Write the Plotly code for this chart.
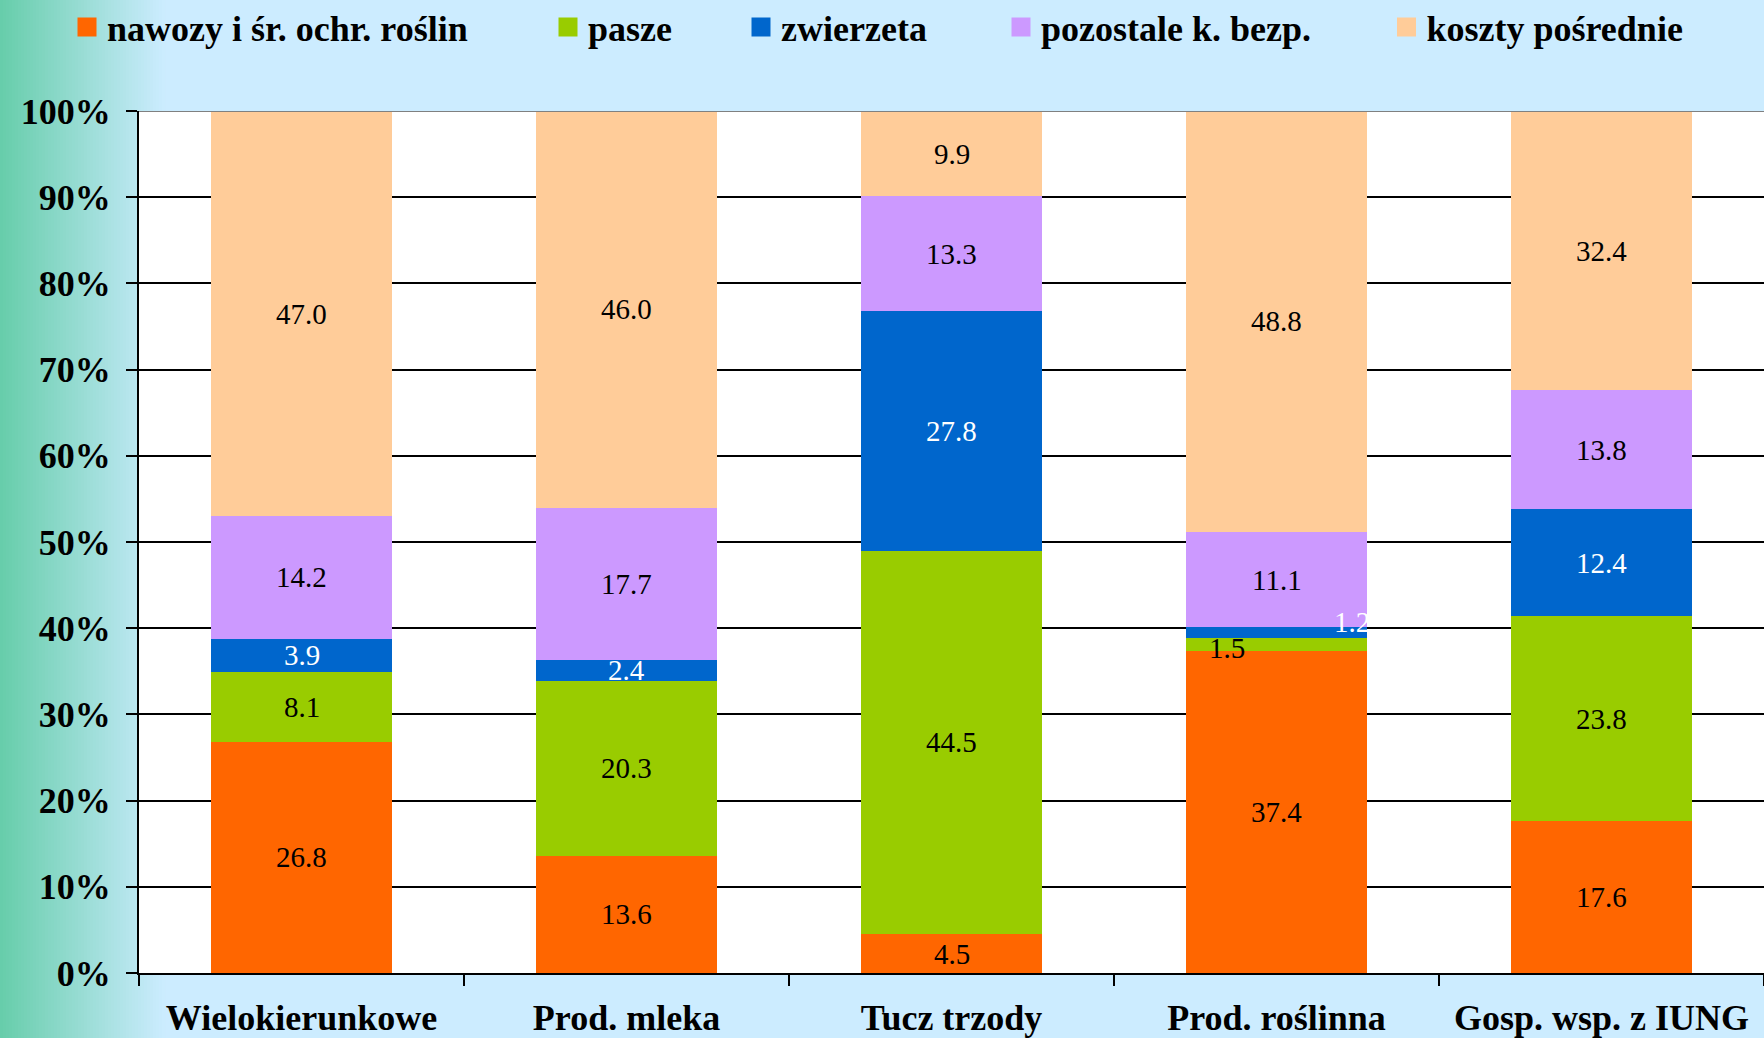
import plotly.graph_objects as go

# Cost structure by farm type (% of total costs)
categories = ["Wielokierunkowe", "Prod. mleka", "Tucz trzody", "Prod. roślinna", "Gosp. wsp. z IUNG"]
series_names = ["nawozy i śr. ochr. roślin", "pasze", "zwierzeta", "pozostale k. bezp.", "koszty pośrednie"]
nawozy = [26.8, 13.6, 4.5, 37.4, 17.6]
pasze = [8.1, 20.3, 44.5, 1.5, 23.8]
zwierzeta = [3.9, 2.4, 27.8, 1.2, 12.4]
pozostale = [14.2, 17.7, 13.3, 11.1, 13.8]
posrednie = [47.0, 46.0, 9.9, 48.8, 32.4]
y_ticks = [0, 10, 20, 30, 40, 50, 60, 70, 80, 90, 100]
y_tick_labels = [f"{v}%" for v in y_ticks]

series_values = [nawozy, pasze, zwierzeta, pozostale, posrednie]
colors = ["#FF6600", "#99CC00", "#0066CC", "#CC99FF", "#FFCC99"]
label_colors = ["black", "black", "white", "black", "black"]

W, H = 1764, 1038
ML, MR, MT, MB = 139, 0, 111, 65
PW, PH = W - ML - MR, H - MT - MB

SERIF = "Liberation Serif, Times New Roman, serif"
BG = "#CCECFF"

fig = go.Figure()
legend_ids = ["legend", "legend2", "legend3", "legend4", "legend5"]
for name, vals, col, lid in zip(series_names, series_values, colors, legend_ids):
    fig.add_trace(go.Bar(
        x=categories, y=vals, name=name, marker=dict(color=col, line=dict(width=0)),
        legendgroup=name, showlegend=False, hoverinfo="x+y+name",
    ))
    # legend entry with a larger square swatch
    fig.add_trace(go.Scatter(
        x=[None], y=[None], mode="markers", name=name, legend=lid, legendgroup=name,
        marker=dict(symbol="square", size=16, color=col, line=dict(color=col, width=3)),
        hoverinfo="skip",
    ))

# value labels centred in each stacked segment
annotations = []
nudges = {(3, 1): (-50, -4), (3, 2): (75, 11)}
for ci, cat in enumerate(categories):
    base = 0.0
    for si, vals in enumerate(series_values):
        v = vals[ci]
        dx, dy = nudges.get((ci, si), (0, 0))
        annotations.append(dict(
            x=cat, y=base + v / 2, xref="x", yref="y", text=f"{v:.1f}",
            showarrow=False, xshift=dx, yshift=dy,
            font=dict(family=SERIF, size=29, color=label_colors[si]),
        ))
        base += v

# left-edge background gradient (teal to light blue)
shapes = []
grad_end = 165
steps = 55
c0 = (0x66, 0xCD, 0xAA)
c1 = (0xCC, 0xEC, 0xFF)
for i in range(steps):
    x0p = grad_end * i / steps
    x1p = grad_end * (i + 1) / steps + 0.6
    t = (i + 0.5) / steps
    col = "rgb(%d,%d,%d)" % tuple(round(a + (b - a) * t) for a, b in zip(c0, c1))
    xa, xb = (x0p - ML) / PW, (x1p - ML) / PW
    common = dict(type="rect", xref="paper", yref="paper", line=dict(width=0),
                  fillcolor=col, layer="below")
    if x1p <= ML:
        shapes.append(dict(x0=xa, x1=xb, y0=-MB / PH - 0.01, y1=1 + MT / PH + 0.01, **common))
    else:
        shapes.append(dict(x0=xa, x1=xb, y0=1, y1=1 + MT / PH + 0.01, **common))
        shapes.append(dict(x0=xa, x1=xb, y0=-MB / PH - 0.01, y1=0, **common))

# grey frame line along the top of the plot area
shapes.append(dict(type="line", xref="x domain", yref="y", x0=0, x1=1, y0=100, y1=100,
                   line=dict(color="#808080", width=2), layer="above"))

layout_legends = {}
legend_px = [67, 548, 741, 1001, 1386.5]
for lid, px in zip(legend_ids, legend_px):
    layout_legends[lid] = dict(
        x=(px - ML) / PW, y=1 + (MT - 27) / PH, xanchor="left", yanchor="middle",
        orientation="h", bgcolor="rgba(0,0,0,0)", borderwidth=0,
        font=dict(family=SERIF, size=36, color="black", weight="bold"),
    )

fig.update_layout(
    width=W, height=H,
    margin=dict(l=ML, r=MR, t=MT, b=MB, autoexpand=False),
    paper_bgcolor=BG, plot_bgcolor="white",
    barmode="stack", bargap=0.446,
    showlegend=True,
    annotations=annotations, shapes=shapes,
    **layout_legends,
)

fig.update_xaxes(
    showline=True, linecolor="black", linewidth=2,
    ticks="outside", tickson="boundaries", ticklen=11, tickwidth=2, tickcolor="black",
    tickfont=dict(family=SERIF, size=36, color="black", weight="bold"),
    ticklabelstandoff=12, showgrid=False,
)
fig.update_yaxes(
    range=[0, 100], tickmode="array", tickvals=y_ticks, ticktext=y_tick_labels,
    showline=True, linecolor="black", linewidth=2,
    ticks="outside", ticklen=11, tickwidth=2, tickcolor="black",
    tickfont=dict(family=SERIF, size=36, color="black", weight="bold"),
    ticklabelstandoff=8,
    showgrid=True, gridcolor="black", gridwidth=2, zeroline=False,
)

fig.write_html("out.html")
